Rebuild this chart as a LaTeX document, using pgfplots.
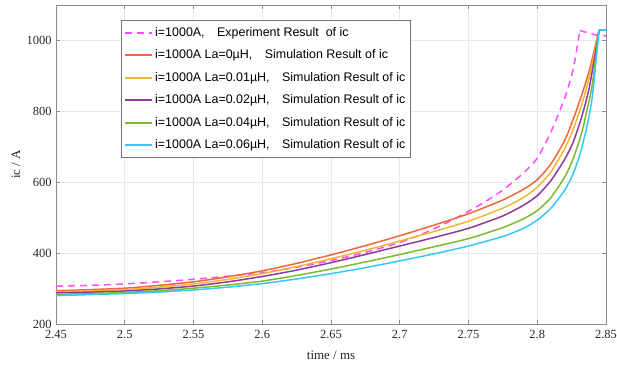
\documentclass[border=0pt]{standalone}
\usepackage{fontspec}
\setmainfont{Liberation Serif}
\newfontfamily\legfont{Liberation Sans}
\usepackage{pgfplots}
\pgfplotsset{compat=1.18}

\definecolor{cExp}{HTML}{FF4DFF}
\definecolor{cL0}{HTML}{F2673A}
\definecolor{cL1}{HTML}{F3B632}
\definecolor{cL2}{HTML}{8E3A9E}
\definecolor{cL4}{HTML}{7DBB2E}
\definecolor{cL6}{HTML}{38C8F4}

\begin{document}
\begin{tikzpicture}
\begin{axis}[
  scale only axis,
  width=550bp, height=319bp,
  xmin=2.45, xmax=2.85, ymin=200, ymax=1100,
  xtick={2.45,2.5,2.55,2.6,2.65,2.7,2.75,2.8,2.85},
  xticklabels={2.45,2.5,2.55,2.6,2.65,2.7,2.75,2.8,2.85},
  ytick={200,400,600,800,1000},
  yticklabels={200,400,600,800,1000},
  tick label style={font=\fontsize{12.5}{14}\selectfont, text=black!85},
  xticklabel style={yshift=-3bp},
  yticklabel style={xshift=-1bp},
  label style={font=\fontsize{13}{15}\selectfont, text=black!85},
  xlabel={time / ms}, ylabel={ic / A},
  xlabel style={at={(axis description cs:0.5,-0.097)}, anchor=center},
  ylabel style={at={(axis description cs:-0.0727,0.5)}, anchor=center},
  grid=major,
  major grid style={black!9, line width=0.6bp},
  axis line style={black!45, line width=0.8bp},
  tick style={black!45, line width=0.6bp},
  tick align=inside, major tick length=4bp,
  legend cell align=left,
  legend style={
    at={(0.118,0.953)}, anchor=north west,
    draw=black!55, line width=0.6bp, fill=white,
    font=\legfont\fontsize{12.5}{14}\selectfont,
    row sep=8bp, inner xsep=3bp, inner ysep=5bp,
  },
  every axis plot/.append style={line width=1.5bp},
  legend image code/.code={\draw[#1, line width=2bp] (0bp,0bp) -- (27bp,0bp);},
]
% measured current
\addplot[cExp, dash pattern=on 7bp off 5bp, smooth, tension=0.4] coordinates {
 (2.45,307) (2.475,309) (2.50,313) (2.525,319) (2.55,326) (2.575,335)
 (2.60,345) (2.625,360) (2.65,379) (2.675,402) (2.70,430) (2.72,460)
 (2.74,497) (2.76,540) (2.775,578) (2.79,626) (2.80,668) (2.81,742)
 (2.82,838) (2.826,917) (2.831,1028)};
\addlegendentry{i=1000A,\quad Experiment Result\ \ of ic}
% simulated current, La = 0
\addplot[cL0, smooth, tension=0.4] coordinates {
 (2.45,294) (2.475,297) (2.50,301) (2.525,309) (2.55,319) (2.575,333)
 (2.60,350) (2.625,371) (2.65,395) (2.675,421) (2.70,449) (2.725,479)
 (2.75,511) (2.775,550) (2.79,580) (2.80,607) (2.81,652) (2.82,718)
 (2.826,776) (2.832,842) (2.838,917) (2.845,1030)};
\addlegendentry{i=1000A La=0µH,\quad Simulation Result of ic}
% La = 0.01 uH
\addplot[cL1, smooth, tension=0.4] coordinates {
 (2.45,291) (2.475,293) (2.50,297) (2.525,304) (2.55,313) (2.575,326)
 (2.60,342) (2.625,362) (2.65,384) (2.675,408) (2.70,434) (2.725,461)
 (2.75,490) (2.775,527) (2.79,557) (2.80,586) (2.81,630) (2.82,695)
 (2.826,748) (2.832,815) (2.838,899) (2.845,1030)};
\addlegendentry{i=1000A La=0.01µH,\quad Simulation Result of ic}
% La = 0.02 uH
\addplot[cL2, smooth, tension=0.4] coordinates {
 (2.45,288) (2.475,290) (2.50,293) (2.525,299) (2.55,307) (2.575,319)
 (2.60,334) (2.625,352) (2.65,373) (2.675,396) (2.70,420) (2.725,444)
 (2.75,470) (2.775,505) (2.79,535) (2.80,562) (2.81,605) (2.82,665)
 (2.826,712) (2.832,780) (2.838,870) (2.845,1030)};
\addlegendentry{i=1000A La=0.02µH,\quad Simulation Result of ic}
% La = 0.04 uH
\addplot[cL4, smooth, tension=0.4] coordinates {
 (2.45,284) (2.475,286) (2.50,289) (2.525,294) (2.55,301) (2.575,310)
 (2.60,321) (2.625,337) (2.65,355) (2.675,375) (2.70,396) (2.725,418)
 (2.75,441) (2.775,472) (2.79,497) (2.80,520) (2.81,557) (2.82,615)
 (2.826,665) (2.832,735) (2.836,800) (2.84,875) (2.845,1030)};
\addlegendentry{i=1000A La=0.04µH,\quad Simulation Result of ic}
% La = 0.06 uH
\addplot[cL6, smooth, tension=0.4] coordinates {
 (2.45,280) (2.475,283) (2.50,286) (2.525,290) (2.55,296) (2.575,304)
 (2.60,314) (2.625,327) (2.65,342) (2.675,359) (2.70,378) (2.725,398)
 (2.75,420) (2.775,447) (2.79,470) (2.80,493) (2.81,527) (2.82,578)
 (2.826,623) (2.831,678) (2.836,755) (2.84,840) (2.845,1030)};
\addlegendentry{i=1000A La=0.06µH,\quad Simulation Result of ic}
% saturated tails after the peak
\addplot[cExp, dash pattern=on 7bp off 5bp, forget plot] coordinates {
 (2.831,1028) (2.843,1015) (2.85,1013)};
\addplot[cL6, forget plot] coordinates {(2.845,1030) (2.85,1030)};
\end{axis}
\pgfresetboundingbox
\useasboundingbox ([xshift=-56bp,yshift=-44bp]current axis.south west)
  rectangle ([xshift=11bp,yshift=5bp]current axis.north east);
\end{tikzpicture}
\end{document}
